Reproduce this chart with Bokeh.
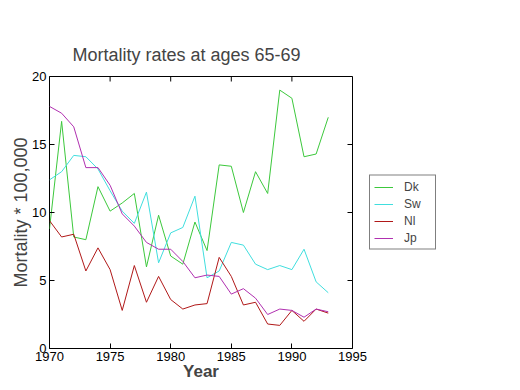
import math
from bokeh.plotting import figure
from bokeh.models import Range1d, Legend, LegendItem, FixedTicker
from bokeh.embed import file_html
from bokeh.resources import INLINE

years = [1970, 1971, 1972, 1973, 1974, 1975, 1976, 1977, 1978, 1979, 1980, 1981,
         1982, 1983, 1984, 1985, 1986, 1987, 1988, 1989, 1990, 1991, 1992, 1993]
dk = [8.8, 16.7, 8.2, 8.0, 11.9, 10.1, 10.7, 11.4, 6.0, 9.8, 6.8, 6.2,
      9.3, 7.2, 13.5, 13.4, 10.0, 13.0, 11.4, 19.0, 18.4, 14.1, 14.3, 17.0]
sw = [12.4, 13.0, 14.2, 14.1, 13.2, 11.6, 10.1, 9.2, 11.5, 6.3, 8.5, 8.9,
      11.2, 5.2, 5.7, 7.8, 7.6, 6.2, 5.8, 6.1, 5.8, 7.3, 4.9, 4.1]
nl = [9.4, 8.2, 8.4, 5.7, 7.4, 5.8, 2.8, 6.1, 3.4, 5.3, 3.6, 2.9,
      3.2, 3.3, 6.7, 5.3, 3.2, 3.4, 1.8, 1.7, 2.8, 2.0, 2.9, 2.6]
jp = [17.8, 17.3, 16.3, 13.3, 13.3, 12.0, 9.9, 9.0, 7.8, 7.3, 7.3, 6.4,
      5.2, 5.4, 5.3, 4.0, 4.4, 3.7, 2.5, 2.9, 2.8, 2.3, 2.9, 2.7]
series_names = ["Dk", "Sw", "Nl", "Jp"]
series_colors = ["#3cc83c", "#40dede", "#b01818", "#b030b0"]
x_ticks = [1970, 1975, 1980, 1985, 1990, 1995]
y_ticks = [0, 5, 10, 15, 20]

FONT = "Liberation Sans"

p = figure(width=451, height=381, frame_width=303, frame_height=272,
           x_range=Range1d(x_ticks[0], x_ticks[-1]), y_range=Range1d(y_ticks[0], y_ticks[-1]),
           output_backend="svg", toolbar_location=None,
           min_border_left=49, min_border_right=0, min_border_top=76, min_border_bottom=33,
           title="Mortality rates at ages  65-69")
p.background_fill_color = "white"
p.border_fill_color = "white"
p.outline_line_color = "black"
p.outline_line_width = 1
p.xgrid.visible = False
p.ygrid.visible = False

p.title.text_font = FONT
p.title.text_font_size = "18px"
p.title.text_font_style = "normal"
p.title.align = "left"
p.title.offset = 23
p.title.standoff = 24

for ax, ticks in ((p.xaxis[0], x_ticks), (p.yaxis[0], y_ticks)):
    ax.ticker = FixedTicker(ticks=ticks)
    ax.major_tick_in = 5
    ax.major_tick_out = 0
    ax.minor_tick_in = 0
    ax.minor_tick_out = 0
    ax.axis_line_color = None
    ax.major_tick_line_color = "black"
    ax.major_label_text_font = FONT
    ax.major_label_text_font_size = "13px"
    ax.major_label_text_color = "black"
    ax.major_label_standoff = 3

p.xaxis[0].axis_label = "Year"
p.xaxis[0].axis_label_text_font = FONT
p.xaxis[0].axis_label_text_font_size = "17px"
p.xaxis[0].axis_label_text_font_style = "bold"
p.xaxis[0].axis_label_standoff = -2
p.yaxis[0].axis_label = "Mortality * 100,000"
p.yaxis[0].axis_label_text_font = FONT
p.yaxis[0].axis_label_text_font_size = "18px"
p.yaxis[0].axis_label_text_font_style = "normal"
p.yaxis[0].axis_label_standoff = -2

# inward ticks on the top and right edges of the box
p.ray(x=x_ticks, y=[y_ticks[-1]] * len(x_ticks), length=5, length_units="screen",
      angle=-math.pi / 2, line_color="black", line_width=1)
p.ray(x=[x_ticks[-1]] * len(y_ticks), y=y_ticks, length=5, length_units="screen",
      angle=math.pi, line_color="black", line_width=1)

items = []
for name, vals, col in zip(series_names, [dk, sw, nl, jp], series_colors):
    r = p.line(years, vals, line_color=col, line_width=1)
    items.append(LegendItem(label=name, renderers=[r]))

legend = Legend(items=items, location="left")
legend.margin = 17
legend.padding = 4
legend.spacing = 3
legend.glyph_width = 19
legend.glyph_height = 13
legend.label_height = 13
legend.label_width = 27
legend.label_standoff = 11
legend.label_text_font = FONT
legend.label_text_font_size = "12px"
legend.border_line_color = "black"
legend.border_line_width = 1
legend.background_fill_color = "white"
legend.background_fill_alpha = 1
p.add_layout(legend, "right")

open("out.html", "w").write(file_html(p, INLINE))
